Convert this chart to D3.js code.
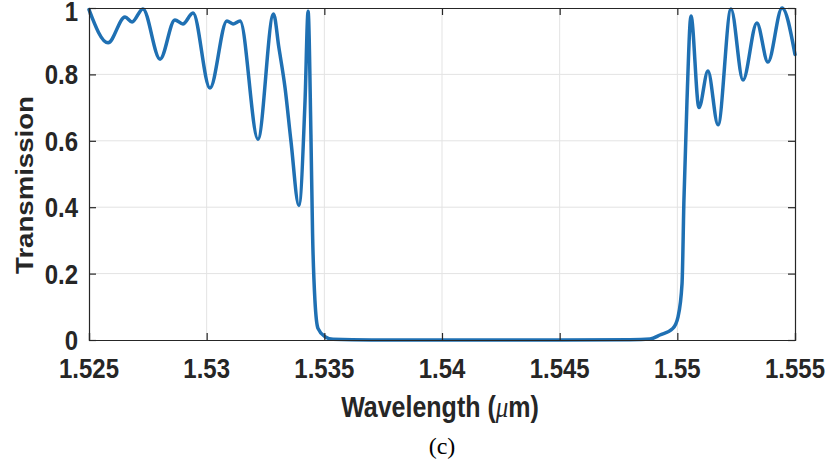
<!DOCTYPE html>
<html>
<head>
<meta charset="utf-8">
<script src="https://cdn.jsdelivr.net/npm/d3@7"></script>
<style>
  html, body { margin: 0; padding: 0; background: #fff; }
  svg { display: block; }
</style>
</head>
<body>
<svg id="chart" width="828" height="467"></svg>
<script>
// ---- data ----
const wavelength = [
  1.52500, 1.52581, 1.52653, 1.52683, 1.52729, 1.52802, 1.52865, 1.52899,
  1.52942, 1.53014, 1.53086, 1.53112, 1.53142, 1.53218, 1.53284, 1.53307,
  1.53333, 1.53358, 1.53392, 1.53418, 1.53431, 1.53443, 1.53450, 1.53460,
  1.53473, 1.53503, 1.53537, 1.53700, 1.54000, 1.54500, 1.54800, 1.54884,
  1.54926, 1.54981, 1.55003, 1.55020, 1.55028, 1.55041, 1.55058, 1.55092,
  1.55130, 1.55173, 1.55228, 1.55279, 1.55338, 1.55385, 1.55445, 1.55500
];
const transmission = [
  0.995, 0.895, 0.973, 0.958, 0.997, 0.846, 0.964, 0.952,
  0.985, 0.759, 0.961, 0.952, 0.961, 0.605, 0.982, 0.880,
  0.760, 0.600, 0.405, 0.720, 0.990, 0.620, 0.320, 0.120,
  0.035, 0.010, 0.002, 0.000, 0.000, 0.000, 0.001, 0.003,
  0.015, 0.035, 0.070, 0.170, 0.420, 0.720, 0.976, 0.700,
  0.810, 0.648, 0.997, 0.783, 0.955, 0.837, 1.000, 0.860
];
const xTicks = [1.525, 1.53, 1.535, 1.54, 1.545, 1.55, 1.555];
const xTickLabels = ["1.525", "1.53", "1.535", "1.54", "1.545", "1.55", "1.555"];
const yTicks = [0, 0.2, 0.4, 0.6, 0.8, 1];
const yTickLabels = ["0", "0.2", "0.4", "0.6", "0.8", "1"];

// ---- layout ----
const L = 89, R = 795, T = 8, B = 340;
const STRETCH = 1.15;
const svg = d3.select("#chart");
const x = d3.scaleLinear().domain([1.525, 1.555]).range([L, R]);
const y = d3.scaleLinear().domain([0, 1]).range([B, T]);

const axisColor = "#262626";
const gridColor = "#e3e3e3";
const font = "'Liberation Sans', Arial, sans-serif";

// grid
svg.append("g").selectAll("line.gx").data(xTicks.slice(1, -1)).join("line")
  .attr("x1", d => x(d)).attr("x2", d => x(d)).attr("y1", T).attr("y2", B)
  .attr("stroke", gridColor).attr("stroke-width", 1);
svg.append("g").selectAll("line.gy").data(yTicks.slice(1, -1)).join("line")
  .attr("x1", L).attr("x2", R).attr("y1", d => y(d)).attr("y2", d => y(d))
  .attr("stroke", gridColor).attr("stroke-width", 1);

// data line
const line = d3.line().x((d, i) => x(wavelength[i])).y(d => y(d)).curve(d3.curveMonotoneX);
svg.append("path").datum(transmission)
  .attr("d", line).attr("fill", "none")
  .attr("stroke", "#1f70b3").attr("stroke-width", 3.5)
  .attr("stroke-linejoin", "round").attr("stroke-linecap", "round");

// axes with inward ticks (box)
const tl = 7;
const axB = d3.axisBottom(x).tickValues(xTicks).tickSize(-tl).tickFormat("");
const axT = d3.axisTop(x).tickValues(xTicks).tickSize(-tl).tickFormat("");
const axLft = d3.axisLeft(y).tickValues(yTicks).tickSize(-tl).tickFormat("");
const axRgt = d3.axisRight(y).tickValues(yTicks).tickSize(-tl).tickFormat("");
function styleAxis(g) {
  g.selectAll("path").attr("stroke", axisColor).attr("stroke-width", 1.2);
  g.selectAll("line").attr("stroke", axisColor).attr("stroke-width", 1.2);
}
svg.append("g").attr("transform", `translate(0,${B})`).call(axB).call(styleAxis);
svg.append("g").attr("transform", `translate(0,${T})`).call(axT).call(styleAxis);
svg.append("g").attr("transform", `translate(${L},0)`).call(axLft).call(styleAxis);
svg.append("g").attr("transform", `translate(${R},0)`).call(axRgt).call(styleAxis);

// tick labels
svg.append("g").selectAll("text").data(xTicks).join("text")
  .attr("transform", d => `translate(${x(d)},${378}) scale(1,${STRETCH})`)
  .attr("text-anchor", "middle")
  .attr("font-family", font).attr("font-weight", "bold").attr("font-size", 24)
  .attr("fill", axisColor)
  .text((d, i) => xTickLabels[i]);
svg.append("g").selectAll("text").data(yTicks).join("text")
  .attr("transform", d => `translate(${78},${Math.max(y(d) + 10, 21)}) scale(1,${STRETCH})`)
  .attr("text-anchor", "end")
  .attr("font-family", font).attr("font-weight", "bold").attr("font-size", 24)
  .attr("fill", axisColor)
  .text((d, i) => yTickLabels[i]);

// axis labels
const xl = svg.append("text")
  .attr("transform", `translate(${440},${417}) scale(1,${STRETCH})`)
  .attr("text-anchor", "middle")
  .attr("font-family", font).attr("font-weight", "bold").attr("font-size", 25)
  .attr("fill", axisColor);
xl.append("tspan").text("Wavelength (");
xl.append("tspan").attr("font-style", "italic").attr("font-family", "'Liberation Serif', serif").attr("font-weight", "normal").text("\u03bc");
xl.append("tspan").text("m)");

svg.append("text")
  .attr("transform", `translate(${33},${185}) scale(1,${STRETCH}) rotate(-90)`)
  .attr("text-anchor", "middle")
  .attr("font-family", font).attr("font-weight", "bold").attr("font-size", 24)
  .attr("fill", axisColor)
  .text("Transmission");

// caption
svg.append("text")
  .attr("x", 442).attr("y", 454)
  .attr("text-anchor", "middle")
  .attr("font-family", "'Liberation Serif', 'Times New Roman', serif").attr("font-size", 24)
  .attr("fill", "#000")
  .text("(c)");
</script>
</body>
</html>
